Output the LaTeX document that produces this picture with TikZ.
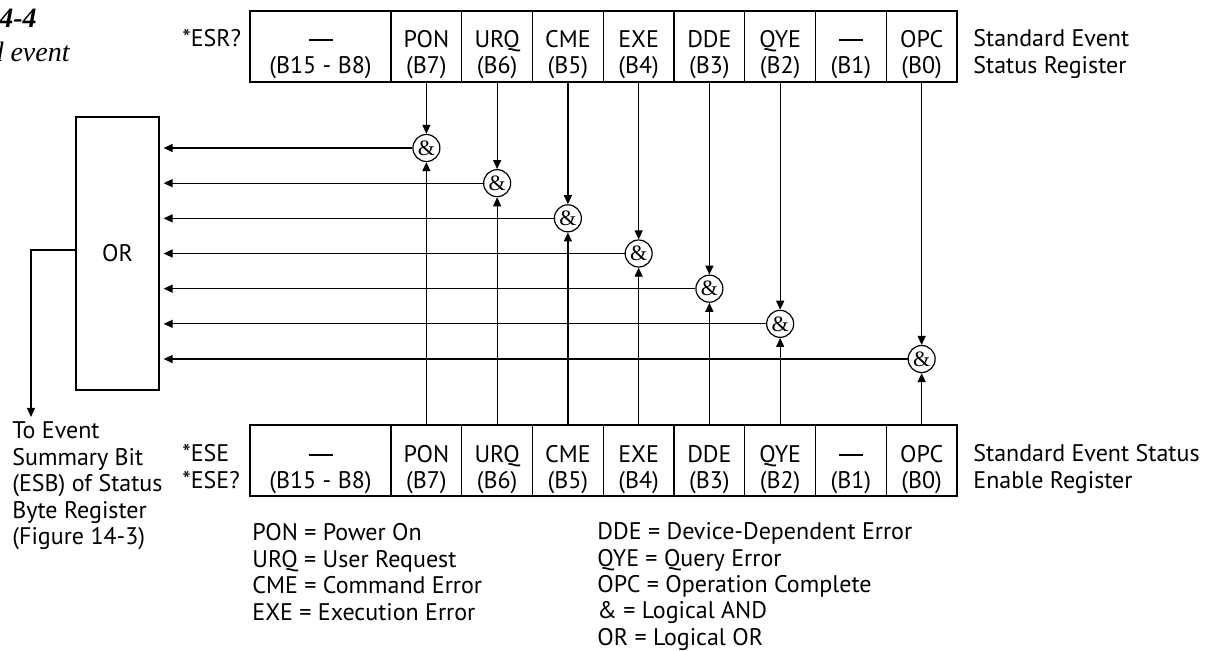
\documentclass[tikz,border=0pt]{standalone}
\usepackage{fontspec}
\setmainfont{PT Sans}
\newfontfamily\serifrm{Liberation Serif}
\usetikzlibrary{arrows.meta}
\newcommand{\nobit}{\rule[3.4pt]{12pt}{.6pt}}

\begin{document}
\begin{tikzpicture}[x=.5pt,y=-.5pt,font=\fontsize{12}{13.3}\selectfont,
  cell/.style={draw,line width=.6pt,minimum height=35.5pt,inner sep=0},
  celltext/.style={align=center,anchor=base,inner sep=0},
  gate/.style={circle,draw,line width=.6pt,minimum size=13.5pt,inner sep=0,
    font=\serifrm\fontsize{11}{11}\selectfont},
  sig/.style={-{Triangle[width=4pt,length=4.5pt]},line width=.6pt},
  lab/.style={anchor=base west,inner sep=0}]
  \useasboundingbox (0,0) rectangle (1212,651);
  \clip (0,0) rectangle (1212,651);

  % figure caption, cut at the left edge
  \node[anchor=base east,inner sep=0,font=\serifrm\fontsize{14}{14}\selectfont\bfseries\itshape] (fignum) at (37,28) {4-4};
  \node[anchor=base east,inner sep=0,font=\serifrm\fontsize{14}{14}\selectfont\itshape] (figtitle) at (70,62) {d event};

  % the two registers
  \node[cell,minimum width=70.5pt] (esrwide) at (320.5,46.5) {};
  \node[cell,minimum width=70.5pt] (esewide) at (320.5,460.5) {};
  \node[celltext] (esrwidetext) at (320.5,74) {\nobit\\(B15 - B8)};
  \node[celltext] (esewidetext) at (320.5,489) {\nobit\\(B15 - B8)};
  \foreach \name/\bit [count=\i from 0] in {PON/7,URQ/6,CME/5,EXE/4,DDE/3,QYE/2,\nobit/1,OPC/0} {
    \node[cell,minimum width=35.375pt] (esr\i) at (426.4+70.75*\i,46.5) {};
    \node[cell,minimum width=35.375pt] (ese\i) at (426.4+70.75*\i,460.5) {};
    \node[celltext] (esrtext\i) at (426.4+70.75*\i,74) {\name\\(B\bit)};
    \node[celltext] (esetext\i) at (426.4+70.75*\i,489) {\name\\(B\bit)};
  }
  \node[lab] (esrq) at (182,47) {*ESR?};
  \node[lab] (ese) at (182,462) {*ESE};
  \node[lab] (eseq) at (182,489) {*ESE?};
  \node[lab] (esrname1) at (973,47) {Standard Event};
  \node[lab] (esrname2) at (973,74) {Status Register};
  \node[lab] (esename1) at (973,462) {Standard Event Status};
  \node[lab] (esename2) at (973,489) {Enable Register};

  % OR box and the AND gates
  \node[draw,line width=.6pt,minimum width=41.5pt,minimum height=136.5pt,inner sep=0] (orgate) at (117.5,253.5) {OR};
  \foreach \i/\row in {0/0,1/1,2/2,3/3,4/4,5/5,7/6} {
    \node[gate] (and\i) at (426.4+70.75*\i,148+35.17*\row) {\&};
    \draw[sig] (esr\i) -- (and\i);
    \draw[sig] (ese\i) -- (and\i);
    \draw[sig,shorten >=2pt] (and\i) -- (and\i -| orgate.east);
  }
  \coordinate (esbtip) at (31,417);
  \draw[sig] ([yshift=1.75pt]orgate.west) -| (esbtip);

  \foreach \txt [count=\i from 0] in {To Event,Summary Bit,(ESB) of Status,Byte Register,(Figure 14-3)}
    \node[lab] (esbtext\i) at (12,439+26.4*\i) {\txt};

  % legend
  \foreach \txt [count=\i from 0] in {PON = Power On,URQ = User Request,CME = Command Error,EXE = Execution Error}
    \node[lab] (keyleft\i) at (252,541+26.4*\i) {\txt};
  \foreach \txt [count=\i from 0] in {DDE = Device-Dependent Error,QYE = Query Error,OPC = Operation Complete,\& = Logical AND,OR = Logical OR}
    \node[lab] (keyright\i) at (597,540+26.3*\i) {\txt};
\end{tikzpicture}
\end{document}
